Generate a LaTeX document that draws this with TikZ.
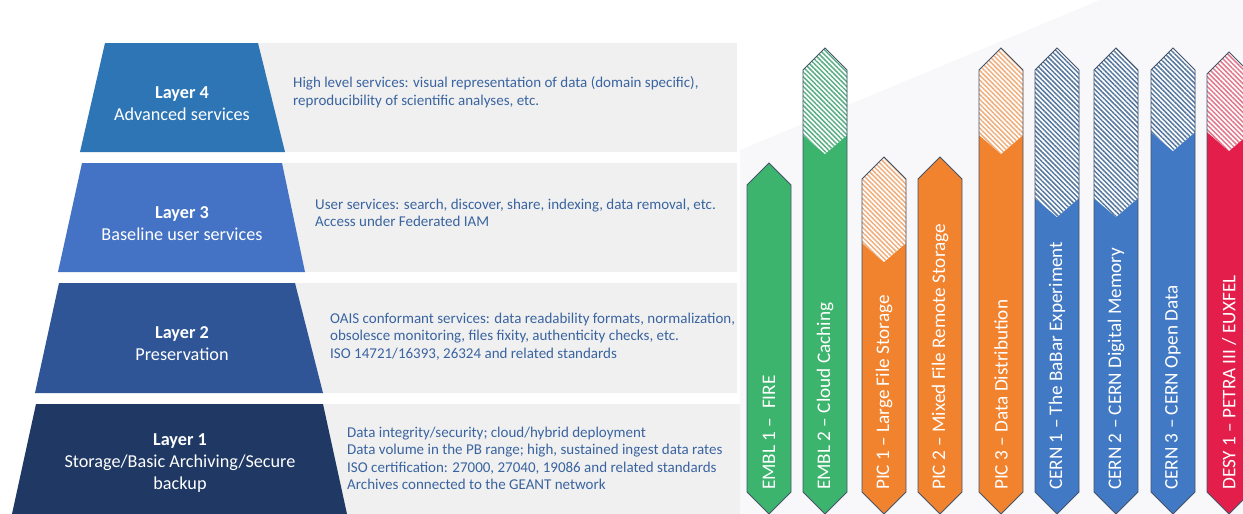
\documentclass[tikz,border=0pt]{standalone}
\usepackage{fontspec}
\setmainfont{Carlito}
\usetikzlibrary{patterns.meta}
\definecolor{layfour}{HTML}{2E75B6}
\definecolor{laythree}{HTML}{4472C4}
\definecolor{laytwo}{HTML}{2F5597}
\definecolor{layone}{HTML}{1F3864}
\definecolor{panelgray}{HTML}{F0F0F0}
\definecolor{paneltxt}{HTML}{3A64A0}
\definecolor{agreen}{HTML}{3DB46D}
\definecolor{aorange}{HTML}{F1822E}
\definecolor{ablue}{HTML}{4279C4}
\definecolor{ared}{HTML}{E41E4A}
\definecolor{hgreen}{HTML}{5AAE84}
\definecolor{horange}{HTML}{EFAE7C}
\definecolor{hblue}{HTML}{56789F}
\definecolor{hred}{HTML}{E2788C}
\definecolor{aline}{HTML}{44546A}
\definecolor{bgfaint}{HTML}{F8F8FA}
\newcommand\varrow[7]{%
  \pgfmathsetmacro\vaL{#2}%
  \pgfmathsetmacro\vaC{#2+22}%
  \pgfmathsetmacro\vaR{#2+44}%
  \pgfmathsetmacro\vaT{#3}%
  \pgfmathsetmacro\vaS{#3+22}%
  \pgfmathsetmacro\vaH{#4}%
  \pgfmathsetmacro\vaV{#4+19}%
  \fill[#5] (\vaL,\vaS) -- (\vaC,\vaT) -- (\vaR,\vaS) -- (\vaR,492) -- (\vaC,514) -- (\vaL,492) -- cycle;
  \ifnum#4>0
    \fill[white] (\vaL,\vaS) -- (\vaC,\vaT) -- (\vaR,\vaS) -- (\vaR,\vaH) -- (\vaC,\vaV) -- (\vaL,\vaH) -- cycle;
    \fill[hatch, pattern color=#6] (\vaL,\vaS) -- (\vaC,\vaT) -- (\vaR,\vaS) -- (\vaR,\vaH) -- (\vaC,\vaV) -- (\vaL,\vaH) -- cycle;
  \fi
  \draw[arrline] (\vaL,\vaS) -- (\vaC,\vaT) coordinate (#1-tip) -- (\vaR,\vaS) -- (\vaR,492) -- (\vaC,514) -- (\vaL,492) -- cycle;
  \node[arrtext] (#1) at (\vaC,490) {#7};
}
\begin{document}
\begin{tikzpicture}[x=1pt,y=-1pt,
  laylabel/.style={text=white, align=center, font=\fontsize{18.2}{22}\selectfont, inner sep=0pt},
  paneltext/.style={text=paneltxt, align=left, anchor=north west, inner sep=0pt, font=\fontsize{15}{17.6}\selectfont},
  arrtext/.style={text=white, rotate=90, anchor=west, inner sep=0pt, font=\fontsize{19.2}{22}\selectfont},
  arrline/.style={draw=aline, line width=0.8pt, line join=miter},
  hatch/.style={pattern={Lines[angle=-45,distance=3.4pt,line width=1.5pt]}}]
\useasboundingbox (0,0) rectangle (1243,514);
\clip (0,0) rectangle (1243,514);
\fill[white] (0,0) rectangle (1243,514);
% faint background shape
\fill[bgfaint] (740,150) -- (1100,0) -- (1243,0) -- (1243,514) -- (740,514) -- cycle;
% gray panels
\fill[panelgray] (200,43) rectangle (737,152);
\fill[panelgray] (200,163) rectangle (737,272);
\fill[panelgray] (200,283) rectangle (737,393);
\fill[panelgray] (200,404) rectangle (740,514);
% trapezoids
\fill[layfour] (105,43) -- (258,43) -- (285,152) -- (80,152) -- cycle;
\fill[laythree] (82,163) -- (282,163) -- (305,272) -- (58,272) -- cycle;
\fill[laytwo] (59,283) -- (295,283) -- (323,393) -- (35,393) -- cycle;
\fill[layone] (36,404) -- (323,404) -- (347,514) -- (12,514) -- cycle;
% layer labels
\node[laylabel] (l4) at (182,103.5) {\textbf{Layer 4}\\Advanced services};
\node[laylabel] (l3) at (182,223.5) {\textbf{Layer 3}\\Baseline user services};
\node[laylabel] (l2) at (182,343.5) {\textbf{Layer 2}\\Preservation};
\node[laylabel] (l1) at (180,463.5) {\textbf{Layer 1}\\Storage/Basic Archiving/Secure\\backup};
% panel texts
\node[paneltext] (p4) at (293,76.5) {High level services: visual representation of data (domain specific),\\reproducibility of scientific analyses, etc.};
\node[paneltext] (p3) at (315,198.5) {User services: search, discover, share, indexing, data removal, etc.\\Access under Federated IAM};
\node[paneltext] (p2) at (330,312.5) {OAIS conformant services: data readability formats, normalization,\\obsolesce monitoring, files fixity, authenticity checks, etc.\\ISO 14721/16393, 26324 and related standards};
\node[paneltext] (p1) at (347,426.5) {Data integrity/security; cloud/hybrid deployment\\Data volume in the PB range; high, sustained ingest data rates\\ISO certification: 27000, 27040, 19086 and related standards\\Archives connected to the GEANT network};
% arrows
\varrow{embla}{747}{163}{0}{agreen}{hgreen}{EMBL 1 –\ \ FIRE}
\varrow{emblb}{803}{48}{135}{agreen}{hgreen}{EMBL 2 – Cloud Caching}
\varrow{pica}{862}{157}{243}{aorange}{horange}{PIC 1 – Large File Storage}
\varrow{picb}{918}{157}{0}{aorange}{horange}{PIC 2 – Mixed File Remote Storage}
\varrow{picc}{979}{48}{135}{aorange}{horange}{PIC 3 – Data Distribution}
\varrow{cerna}{1035}{48}{198}{ablue}{hblue}{CERN 1 – The BaBar Experiment}
\varrow{cernb}{1094}{48}{198}{ablue}{hblue}{CERN 2 – CERN Digital Memory}
\varrow{cernc}{1151}{48}{132}{ablue}{hblue}{CERN 3 – CERN Open Data}
\varrow{desy}{1207}{52}{132}{ared}{hred}{DESY 1 – PETRA III / EUXFEL}
\end{tikzpicture}
\end{document}
